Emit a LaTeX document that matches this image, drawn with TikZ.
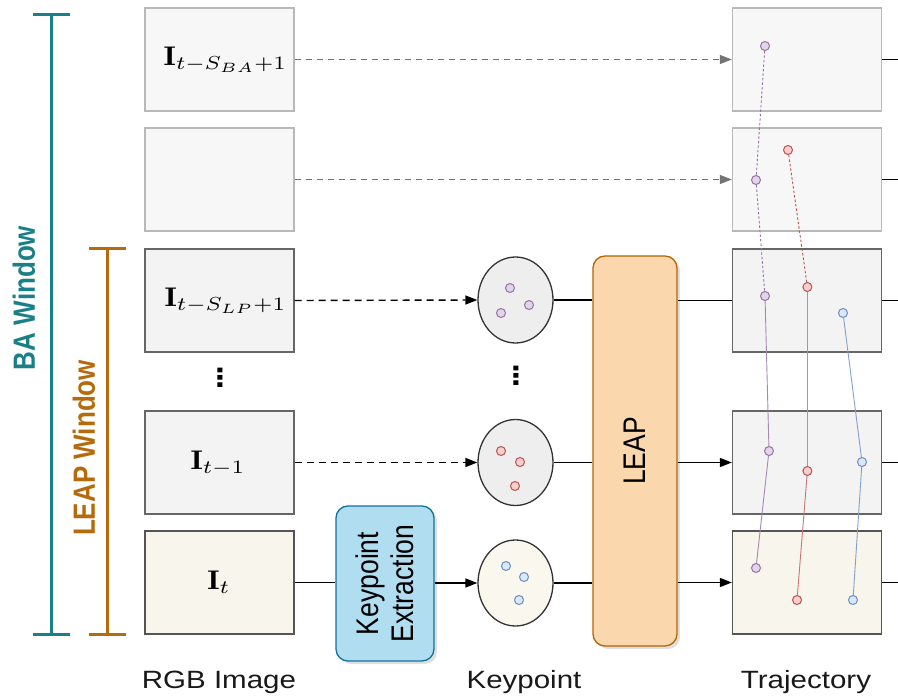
\documentclass[tikz,border=0pt]{standalone}
\usepackage{graphicx}
\usepackage{fontspec}
\setsansfont{Liberation Sans}
\newfontfamily\symfont{DejaVu Sans}
\usetikzlibrary{arrows.meta,shapes.geometric,shadows}

\definecolor{bateal}{HTML}{1A8087}
\definecolor{leaporange}{HTML}{B66A0C}
\definecolor{kpPurple}{HTML}{9673A6}\definecolor{kpPurpleFill}{HTML}{E1D5E7}
\definecolor{kpRed}{HTML}{B85450}\definecolor{kpRedFill}{HTML}{F8CECC}
\definecolor{kpBlue}{HTML}{6C8EBF}\definecolor{kpBlueFill}{HTML}{DAE8FC}
\definecolor{keFill}{HTML}{B1DDF0}\definecolor{keDraw}{HTML}{10739E}
\definecolor{leapFill}{HTML}{FAD7AC}\definecolor{leapDraw}{HTML}{B46504}
\definecolor{faintDraw}{HTML}{B8B8B8}\definecolor{faintFill}{HTML}{F7F7F7}
\definecolor{frameDraw}{HTML}{666666}\definecolor{frameFill}{HTML}{F3F3F3}
\definecolor{curDraw}{HTML}{555555}\definecolor{curFill}{HTML}{F8F5EC}
\definecolor{ellFill}{HTML}{EEEEEE}\definecolor{ellCur}{HTML}{F9F7EE}

% enlarged (slightly wide) math label for a frame
\newcommand{\framelabel}[1]{\scalebox{3.1}[2.7]{$#1$}}

\begin{document}
\begin{tikzpicture}[x=1pt,y=-1pt,
  frame/.style={rectangle,minimum width=149pt,minimum height=103pt,inner sep=0pt,line width=1.3pt},
  oldframe/.style={frame,draw=faintDraw,fill=faintFill},
  winframe/.style={frame,draw=frameDraw,fill=frameFill},
  curframe/.style={frame,draw=curDraw,fill=curFill},
  kpset/.style={ellipse,minimum width=75pt,minimum height=86pt,inner sep=0pt,draw=black!80,line width=1.3pt},
  kp/.style={circle,minimum size=9pt,inner sep=0pt,line width=1pt},
  kpP/.style={kp,draw=kpPurple,fill=kpPurpleFill},
  kpR/.style={kp,draw=kpRed,fill=kpRedFill},
  kpB/.style={kp,draw=kpBlue,fill=kpBlueFill},
  imglabel/.style={inner sep=0pt},
  dotsmark/.style={inner sep=0pt,font=\symfont\bfseries\fontsize{25}{27}\selectfont,xscale=1.15},
  caption/.style={font=\sffamily\fontsize{25}{30}\selectfont,text=black!90,xscale=1.18},
  boxtext/.style={font=\sffamily\fontsize{26.5}{30}\selectfont,rotate=90,yscale=1.18},
  wintext/.style={font=\sffamily\bfseries\fontsize{26}{30}\selectfont,rotate=90,yscale=1.18},
  flow/.style={line width=1.4pt,black},
  flowarrow/.style={flow,-{Triangle[length=12pt,width=9pt]}},
  dashflow/.style={flowarrow,dash pattern=on 7pt off 5pt},
  greyflow/.style={line width=1.2pt,black!55,dash pattern=on 6pt off 5pt,-{Triangle[length=12pt,width=9pt]}},
  track/.style={line width=0.9pt},
  oldtrack/.style={line width=0.9pt,dash pattern=on 2.5pt off 2pt},
  bracket/.style={line width=3pt}
]
\path[use as bounding box] (0,0) rectangle (898,698);

% image column
\node[oldframe] (i1) at (219.5,59.5) {};
\node[imglabel] (l1) at (225.5,60) {\framelabel{\mathbf{I}_{t-S_{BA}+1}}};
\node[oldframe] (i2) at (219.5,179.5) {};
\node[winframe] (i3) at (219.5,300.5) {};
\node[imglabel] (l3) at (225.5,301) {\framelabel{\mathbf{I}_{t-S_{LP}+1}}};
\node[winframe] (i4) at (219.5,462.5) {};
\node[imglabel] (l4) at (218,463) {\framelabel{\mathbf{I}_{t-1}}};
\node[curframe] (i5) at (219.5,582.5) {};
\node[imglabel] (l5) at (219,582) {\framelabel{\mathbf{I}_{t}}};
\node[dotsmark] (vd1) at (220,378) {⋮};

% trajectory column
\node[oldframe] (t1) at (807,59.5) {};
\node[oldframe] (t2) at (807,179.5) {};
\node[winframe] (t3) at (807,300.5) {};
\node[winframe] (t4) at (807,462.5) {};
\node[curframe] (t5) at (807,582.5) {};
\foreach \r/\y in {1/59.5,2/179.5,3/300.5,4/462.5,5/582.5}{
  \coordinate (e\r) at (898,\y);
  \draw[flow] (t\r.east) -- (e\r);
}

% keypoint sets
\node[kpset,fill=ellFill] (k3) at (515.5,300) {};
\node[kpset,fill=ellFill] (k4) at (515.5,462.5) {};
\node[kpset,fill=ellCur] (k5) at (515.5,583) {};
\node[dotsmark] (vd2) at (516,376) {⋮};

\node[kpP] (a1) at (510,288) {};
\node[kpP] (a2) at (529,305) {};
\node[kpP] (a3) at (501,313) {};
\node[kpR] (b1) at (501,451) {};
\node[kpR] (b2) at (520,462) {};
\node[kpR] (b3) at (515,486) {};
\node[kpB] (c1) at (506,566) {};
\node[kpB] (c2) at (524,577) {};
\node[kpB] (c3) at (519,600) {};

% processing blocks
\node[rectangle,rounded corners=12pt,draw=keDraw,fill=keFill,line width=1.3pt,
  minimum width=98pt,minimum height=155pt,inner sep=0pt,
  drop shadow={shadow xshift=3pt,shadow yshift=-3pt,opacity=0.25}] (ke) at (385,583.5) {};
\node[boxtext,align=center] at (ke) {Keypoint\\Extraction};
\node[rectangle,rounded corners=12pt,draw=leapDraw,fill=leapFill,line width=1.3pt,
  minimum width=84pt,minimum height=390pt,inner sep=0pt,
  drop shadow={shadow xshift=3pt,shadow yshift=-3pt,opacity=0.25}] (leap) at (635,451) {};
\node[boxtext] at (leap) {LEAP};

% connectors
\draw[greyflow] (i1.east) -- (t1.west);
\draw[greyflow] (i2.east) -- (t2.west);
\draw[dashflow] (i3.east) -- (k3.west);
\draw[dashflow] (i4.east) -- (k4.west);
\draw[flow] (i5.east) -- (i5.east -| ke.west);
\draw[flowarrow] (ke.east |- k5.west) -- (k5.west);
\draw[flow] (k3.east) -- (k3.east -| leap.west);
\draw[flow] (k4.east) -- (k4.east -| leap.west);
\draw[flow] (k5.east) -- (k5.east -| leap.west);
\draw[flow] (leap.east |- t3.west) -- (t3.west);
\draw[flowarrow] (leap.east |- t4.west) -- (t4.west);
\draw[flowarrow] (leap.east |- t5.west) -- (t5.west);

% tracks
\node[kpP] (p1) at (765,46) {};
\node[kpP] (p2) at (756,180) {};
\node[kpP] (p3) at (765,296) {};
\node[kpP] (p4) at (769,451) {};
\node[kpP] (p5) at (756,568) {};
\node[kpR] (r2) at (788,150) {};
\node[kpR] (r3) at (807.4,287) {};
\node[kpR] (r4) at (807.4,471) {};
\node[kpR] (r5) at (797,600) {};
\node[kpB] (s3) at (843,313) {};
\node[kpB] (s4) at (862,462) {};
\node[kpB] (s5) at (853,600) {};
\draw[oldtrack,kpPurple] (p1) -- (p2);
\draw[oldtrack,kpPurple] (p2) -- (p3);
\draw[track,kpPurple!85] (p3) -- (p4);
\draw[track,kpPurple!85] (p4) -- (p5);
\draw[oldtrack,kpRed] (r2) -- (r3);
\draw[track,kpRed!70] (r3) -- (r4);
\draw[track,kpRed!80] (r4) -- (r5);
\draw[track,kpBlue!85] (s3) -- (s4);
\draw[track,kpBlue!85] (s4) -- (s5);

% window brackets
\coordinate (baTop) at (51,15);
\coordinate (baBot) at (51,634);
\draw[bracket,bateal] (baTop) -- (baBot);
\draw[bracket,bateal] ([xshift=-18pt]baTop) -- ([xshift=19pt]baTop);
\draw[bracket,bateal] ([xshift=-18pt]baBot) -- ([xshift=19pt]baBot);
\node[wintext,text=bateal] (ba) at (24,298) {BA Window};
\coordinate (lpTop) at (107,249);
\coordinate (lpBot) at (107,634);
\draw[bracket,leaporange] (lpTop) -- (lpBot);
\draw[bracket,leaporange] ([xshift=-18pt]lpTop) -- ([xshift=19pt]lpTop);
\draw[bracket,leaporange] ([xshift=-18pt]lpBot) -- ([xshift=19pt]lpBot);
\node[wintext,text=leaporange] (lw) at (84,448) {LEAP Window};

% column captions
\node[caption] (c-rgb) at (219,682) {RGB Image};
\node[caption] (c-kp) at (524,682) {Keypoint};
\node[caption] (c-tr) at (806,682) {Trajectory};
\end{tikzpicture}
\end{document}
